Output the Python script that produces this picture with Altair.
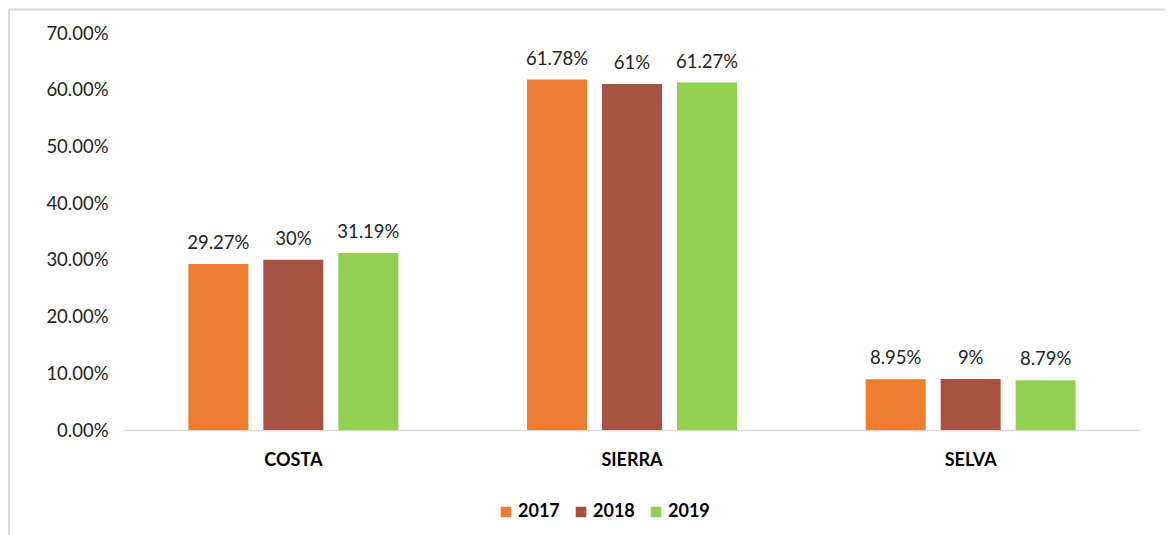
import altair as alt
import pandas as pd

regions = ["COSTA", "SIERRA", "SELVA"]
years = ["2017", "2018", "2019"]
v2017 = [29.27, 61.78, 8.95]
v2018 = [30.0, 61.0, 9.0]
v2019 = [31.19, 61.27, 8.79]
lbl2017 = ["29.27%", "61.78%", "8.95%"]
lbl2018 = ["30%", "61%", "9%"]
lbl2019 = ["31.19%", "61.27%", "8.79%"]
colors = ["#ED7D31", "#A65142", "#92D050"]
y_ticks = [0, 10, 20, 30, 40, 50, 60, 70]

rows = []
for vals, lbls, yr in [(v2017, lbl2017, "2017"), (v2018, lbl2018, "2018"), (v2019, lbl2019, "2019")]:
    for r, v, l in zip(regions, vals, lbls):
        rows.append({"region": r, "year": yr, "value": v, "label": l})
df = pd.DataFrame(rows)

FONT = "Lato"
FS = 18.5
W, H = 1016, 397

x = alt.X("region:N", sort=regions, title=None,
          scale=alt.Scale(paddingInner=0.38, paddingOuter=0.19),
          axis=alt.Axis(labelAngle=0, labelFont=FONT, labelFontSize=18, labelFontWeight="bold",
                        labelColor="#000000", labelPadding=21, ticks=False,
                        domainColor="#D9D9D9", domainWidth=1.5))
xo = alt.XOffset("year:N", sort=years, scale=alt.Scale(paddingInner=0.2, paddingOuter=0))
y = alt.Y("value:Q", title=None,
          scale=alt.Scale(domain=[0, 70], nice=False),
          axis=alt.Axis(values=y_ticks, labelExpr="format(datum.value, '.2f') + '%'",
                        labelFont=FONT, labelFontSize=FS, labelColor="#222222",
                        ticks=False, domain=False, grid=False, labelPadding=16))
color = alt.Color("year:N", sort=years, title=None,
                  scale=alt.Scale(domain=years, range=colors),
                  legend=alt.Legend(orient="none", direction="horizontal",
                                    legendX=373, legendY=470, symbolType="square",
                                    symbolSize=110, symbolStrokeWidth=0, labelFont=FONT,
                                    labelFontSize=18, labelFontWeight="bold",
                                    labelColor="#000000", labelOffset=3, columnPadding=12,
                                    padding=0))

base = alt.Chart(df)
bars = base.mark_bar().encode(x=x, xOffset=xo, y=y, color=color)
texts = base.mark_text(font=FONT, fontSize=FS, color="#222222", dy=-15, baseline="alphabetic").encode(
    x=x, xOffset=xo, y=y, text="label:N")

top_border = alt.Chart(pd.DataFrame({"a": [0]})).mark_rule(color="#D9D9D9", strokeWidth=2, clip=False).encode(
    x=alt.value(-115), x2=alt.value(W + 40), y=alt.value(-23.5))
left_border = alt.Chart(pd.DataFrame({"a": [0]})).mark_rule(color="#D9D9D9", strokeWidth=2, clip=False).encode(
    x=alt.value(-115), y=alt.value(-23.5), y2=alt.value(H + 130))

chart = alt.layer(top_border, left_border, bars, texts).properties(
    width=W, height=H,
    background="white",
    autosize=alt.AutoSizeParams(type="none"),
    padding={"left": 116, "top": 25, "right": 25, "bottom": 110},
).configure_view(stroke="transparent", strokeWidth=0)

chart.save("out.html", embed_options={"renderer": "svg", "actions": False})
